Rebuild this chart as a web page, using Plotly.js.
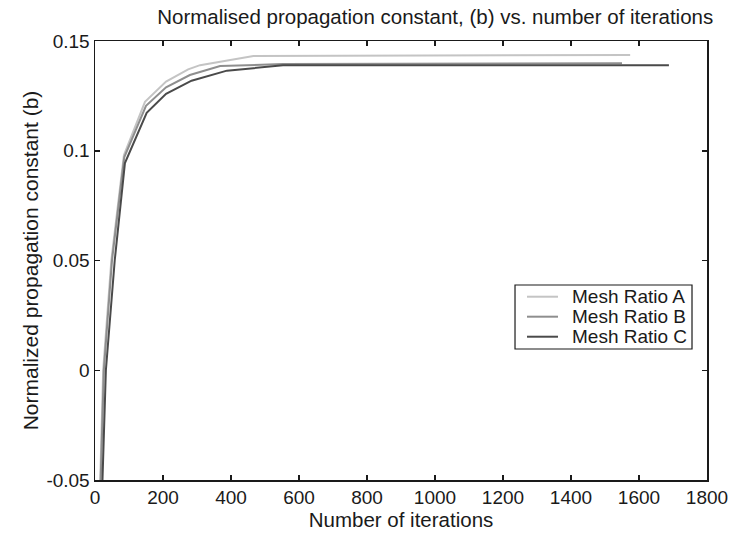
<!DOCTYPE html>
<html><head><meta charset="utf-8">
<script src="https://cdn.plot.ly/plotly-3.0.1.min.js"></script>
<style>html,body{margin:0;padding:0;background:#fff}#chart{width:729px;height:533px}</style>
</head><body><div id="chart"></div>
<script>
const seriesNames = ["Mesh Ratio A", "Mesh Ratio B", "Mesh Ratio C"];
const iterA = [12, 24, 48, 85, 147, 209, 274, 309, 466, 1574];
const valA  = [-0.07, 0.0, 0.05, 0.098, 0.1223, 0.1315, 0.1371, 0.139, 0.1432, 0.1436];
const iterB = [13, 26, 50, 86, 150, 209, 279, 368, 553, 1550];
const valB  = [-0.07, 0.0, 0.05, 0.097, 0.1205, 0.1289, 0.1345, 0.1386, 0.1395, 0.1399];
const iterC = [18, 32, 58, 88, 152, 209, 284, 388, 553, 1688];
const valC  = [-0.07, 0.0, 0.05, 0.0944, 0.1173, 0.1259, 0.1319, 0.1365, 0.1389, 0.1389];
const colors = ["#c4c4c4", "#8e8e8e", "#4a4a4a"];

const xs = [iterA, iterB, iterC], ys = [valA, valB, valC];
const traces = xs.map((x, i) => ({
  x: x, y: ys[i], type: "scatter", mode: "lines", name: seriesNames[i],
  line: {color: colors[i], width: 2}, showlegend: false
}));

const fam = "Liberation Sans, Arial, sans-serif";
const ink = "#1a1a1a";
const axisCommon = {
  showline: true, linecolor: ink, linewidth: 1.5, mirror: "ticks",
  ticks: "inside", ticklen: 5, tickwidth: 1.5, tickcolor: ink,
  showgrid: false, zeroline: false, tickfont: {size: 19, family: fam, color: ink}
};

// legend box drawn in paper coordinates
const legBox = {x0: 0.6863, x1: 0.9755, y0: 0.2984, y1: 0.4442};
const legLine = {x0: 0.7059, x1: 0.7565};
const legRowY = [0.4175, 0.372, 0.3264];
const legTextX = 0.7761;
const shapes = [{type: "rect", xref: "paper", yref: "paper", x0: legBox.x0, x1: legBox.x1, y0: legBox.y0, y1: legBox.y1,
  line: {color: ink, width: 1.2}, fillcolor: "#fff", layer: "above"}];
const annotations = [];
seriesNames.forEach((n, i) => {
  shapes.push({type: "line", xref: "paper", yref: "paper", x0: legLine.x0, x1: legLine.x1, y0: legRowY[i], y1: legRowY[i],
    line: {color: colors[i], width: 2}, layer: "above"});
  annotations.push({xref: "paper", yref: "paper", x: legTextX, y: legRowY[i], xanchor: "left", yanchor: "middle",
    text: n, showarrow: false, font: {size: 19, family: fam, color: ink}});
});

const layout = {
  width: 729, height: 533,
  margin: {l: 95, r: 22, t: 41, b: 53},
  paper_bgcolor: "#fff", plot_bgcolor: "#fff",
  font: {family: fam, color: ink},
  title: {text: "Normalised propagation constant, (b) vs. number of iterations",
          font: {size: 20.5, family: fam, color: ink}, x: 0.597, xanchor: "center", y: 0.968, yanchor: "middle"},
  xaxis: Object.assign({}, axisCommon, {range: [0, 1800], tickvals: [0,200,400,600,800,1000,1200,1400,1600,1800],
    ticktext: ["0","200","400","600","800","1000","1200","1400","1600","1800"],
    title: {text: "Number of iterations", font: {size: 20.5, family: fam, color: ink}, standoff: 2}}),
  yaxis: Object.assign({}, axisCommon, {range: [-0.05, 0.15], tickvals: [-0.05, 0, 0.05, 0.1, 0.15],
    ticktext: ["-0.05", "0", "0.05", "0.1", "0.15"],
    title: {text: "Normalized propagation constant (b)", font: {size: 21, family: fam, color: ink}, standoff: 2}}),
  showlegend: false,
  shapes: shapes,
  annotations: annotations
};
Plotly.newPlot("chart", traces, layout, {displayModeBar: false, staticPlot: true});
</script></body></html>
